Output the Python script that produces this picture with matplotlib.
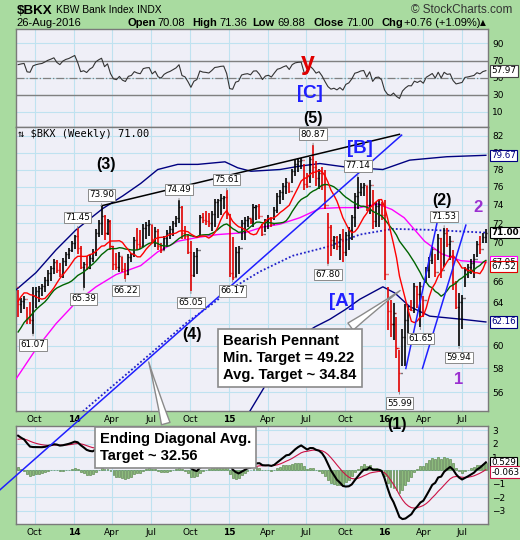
import numpy as np
import pandas as pd
import matplotlib
matplotlib.use('Agg')
import matplotlib.pyplot as plt
import matplotlib.dates as mdates
import matplotlib.transforms as mtrans
from matplotlib.ticker import NullLocator, NullFormatter, FuncFormatter

# weekly bars 23-Aug-2013 .. 26-Aug-2016
highs = [65.2, 64.4, 64.6, 63.6, 64.0, 65.5, 65.5, 65.6, 65.8, 66.5,
         67.2, 67.6, 68.3, 68.2, 67.9, 68.4, 69.0, 69.4, 70.1, 70.8,
         71.45, 69.6, 68.0, 68.6, 68.7, 69.3, 71.4, 72.3, 73.90, 72.9,
         72.5, 72.4, 69.6, 68.9, 69.0, 68.5, 67.9, 68.8, 68.9, 70.5,
         71.5, 71.3, 71.9, 72.1, 72.3, 71.8, 71.6, 71.4, 69.9, 70.7,
         71.3, 71.7, 72.2, 72.8, 74.49, 73.9, 71.7, 70.9, 70.1, 69.0,
         69.4, 72.9, 73.1, 73.3, 73.1, 73.3, 74.6, 74.7, 75.2, 75.0,
         75.61, 73.0, 70.5, 69.5, 69.6, 72.3, 72.7, 72.8, 72.5, 74.1,
         74.0, 74.1, 71.9, 72.5, 72.9, 72.7, 73.8, 75.3, 75.7, 76.4,
         77.0, 76.4, 78.1, 79.1, 79.3, 79.3, 78.6, 77.6, 79.5, 80.87,
         79.0, 78.1, 78.3, 78.0, 73.1, 71.8, 70.7, 70.6, 70.9, 71.4,
         71.1, 71.6, 72.9, 75.3, 77.14, 76.4, 76.4, 76.1, 76.8, 75.7,
         74.3, 74.5, 74.3, 74.5, 65.5, 64.2, 63.9, 62.6, 59.6, 61.5,
         63.8, 63.7, 64.2, 65.9, 65.6, 66.0, 64.6, 67.5, 68.5, 69.5,
         68.8, 70.9, 70.4, 71.53, 71.5, 70.6, 69.2, 66.1, 64.9, 64.7,
         67.5, 67.8, 68.3, 68.8, 70.1, 70.6, 71.0, 71.36]
lows = [62.6, 63.0, 63.4, 62.0, 62.0, 61.07, 63.5, 64.0, 64.6, 65.0,
        65.6, 66.1, 66.8, 66.9, 66.5, 66.4, 67.6, 68.3, 69.0, 69.3,
        68.8, 67.3, 65.39, 67.2, 67.3, 68.0, 68.6, 70.5, 70.8, 70.2,
        70.8, 69.2, 67.2, 67.2, 67.0, 67.0, 66.22, 66.7, 68.0, 68.5,
        69.2, 69.3, 69.5, 70.3, 70.6, 69.9, 69.5, 69.2, 68.9, 69.2,
        69.5, 70.3, 70.6, 71.6, 72.0, 70.3, 70.3, 68.8, 65.05, 66.5,
        66.8, 70.8, 72.0, 71.8, 71.6, 71.2, 71.6, 72.6, 72.9, 73.5,
        72.5, 66.5, 66.17, 66.5, 66.8, 70.2, 70.2, 71.6, 71.9, 71.6,
        72.3, 72.5, 70.6, 71.1, 71.4, 71.6, 72.4, 73.1, 74.1, 74.5,
        75.2, 75.3, 76.4, 77.2, 77.7, 78.1, 75.7, 75.9, 76.4, 77.0,
        76.1, 75.8, 75.7, 73.5, 67.80, 68.6, 69.3, 69.2, 68.2, 68.0,
        68.6, 69.2, 70.2, 71.6, 73.5, 75.0, 75.0, 73.3, 73.0, 71.4,
        71.6, 71.6, 72.4, 66.2, 61.4, 60.8, 60.5, 58.9, 55.99, 58.2,
        58.2, 61.0, 63.2, 63.0, 63.5, 61.65, 62.6, 65.9, 66.4, 67.8,
        66.5, 68.2, 66.4, 67.5, 69.5, 68.2, 65.2, 63.4, 59.94, 61.5,
        65.5, 66.4, 66.8, 66.4, 68.5, 68.8, 69.9, 69.88]
closes = [63.8, 64.1, 64.3, 62.4, 62.3, 64.6, 65.1, 65.4, 65.6, 66.2,
          66.9, 67.4, 68.0, 67.2, 66.8, 68.1, 68.8, 69.2, 69.9, 70.6,
          69.4, 67.5, 67.8, 67.4, 68.4, 69.0, 71.0, 72.0, 72.8, 71.0,
          72.2, 69.6, 67.8, 67.5, 68.6, 67.3, 66.8, 68.5, 68.8, 70.2,
          69.8, 69.6, 71.5, 71.8, 71.9, 70.3, 71.2, 69.6, 69.2, 70.4,
          71.0, 71.4, 72.0, 72.6, 73.8, 71.0, 70.6, 69.0, 66.7, 68.6,
          69.2, 72.7, 72.3, 72.2, 72.0, 73.0, 74.3, 74.5, 74.8, 74.9,
          73.0, 66.9, 66.5, 69.0, 69.4, 72.0, 72.4, 72.6, 72.2, 73.8,
          73.9, 72.8, 70.9, 72.2, 72.5, 71.9, 73.4, 75.0, 75.4, 76.1,
          76.6, 75.6, 77.8, 78.7, 79.0, 79.1, 76.3, 76.1, 79.2, 78.3,
          77.0, 77.6, 76.2, 74.0, 71.6, 70.2, 70.5, 69.6, 70.3, 69.0,
          70.8, 71.3, 72.7, 75.0, 75.4, 76.0, 76.2, 74.0, 76.2, 72.2,
          73.9, 74.1, 72.9, 66.8, 63.2, 62.0, 63.0, 59.8, 57.6, 60.8,
          62.3, 63.4, 63.3, 65.6, 64.8, 65.6, 64.2, 67.2, 68.2, 69.3,
          67.0, 70.4, 67.2, 71.0, 69.8, 70.1, 66.0, 63.6, 64.0, 64.4,
          67.2, 67.5, 67.9, 68.3, 69.8, 69.3, 70.5, 71.00]
# closes of the weeks before the window (only feed the indicators)
warmup = [54.2, 54.6, 55.8, 56.5, 57.0, 56.3, 56.8, 56.0, 55.2, 56.4,
          57.0, 57.8, 58.9, 60.1, 60.8, 61.5, 60.2, 59.4, 60.8, 62.5,
          63.9, 65.2, 66.5, 66.9, 66.4, 65.5]

# long averages / bands
ma50_dates = ['2013-08-18', '2013-10-04', '2013-11-20', '2014-01-06', '2014-02-22',
              '2014-04-10', '2014-06-07', '2014-07-17', '2014-09-02', '2014-10-19',
              '2014-12-05', '2015-01-05', '2015-02-07', '2015-03-21', '2015-04-30',
              '2015-06-16', '2015-08-02', '2015-09-18', '2015-11-04', '2015-12-16',
              '2016-01-18', '2016-02-16', '2016-04-04', '2016-05-14', '2016-06-28',
              '2016-08-26']
ma50_vals = [57.1, 59.7, 62.0, 64.0, 65.5, 66.7, 67.6, 69.0, 70.1, 70.5,
             70.8, 70.9, 71.0, 71.6, 71.9, 72.6, 73.6, 73.7, 73.7, 74.1,
             73.5, 72.6, 70.1, 68.8, 68.1, 67.9]
mid_dates = ['2014-01-15', '2014-06-21', '2014-09-23', '2014-11-24', '2015-01-09',
             '2015-03-14', '2015-05-30', '2015-08-18', '2015-11-04', '2016-01-20',
             '2016-04-16', '2016-08-26']
mid_vals = [54.2, 59.0, 62.1, 63.9, 65.4, 67.0, 68.6, 69.5, 70.8, 71.4, 71.3, 71.0]
up_dates = ['2013-08-18', '2013-10-04', '2013-11-20', '2014-01-06', '2014-03-10',
            '2014-04-26', '2014-06-07', '2014-07-17', '2014-09-02', '2014-10-19',
            '2014-12-22', '2015-01-21', '2015-02-21', '2015-04-30', '2015-06-16',
            '2015-08-02', '2015-09-30', '2015-12-28', '2016-02-29', '2016-05-26',
            '2016-08-26']
up_vals = [65.2, 66.9, 69.2, 71.3, 73.6, 75.0, 76.4, 78.0, 78.6, 78.6,
           78.9, 78.2, 77.8, 78.0, 78.4, 78.7, 78.3, 78.0, 79.1, 79.5, 79.67]
low_dates = ['2015-02-18', '2015-03-26', '2015-05-12', '2015-06-16', '2015-07-21',
             '2015-08-25', '2015-09-30', '2015-11-04', '2015-12-28', '2016-01-25',
             '2016-02-29', '2016-04-16', '2016-07-03', '2016-08-26']
low_vals = [54.4, 56.5, 59.3, 60.8, 61.7, 62.4, 63.3, 64.3, 65.5, 64.9,
            63.6, 62.7, 62.4, 62.16]

peak_labels = [71.45, 73.90, 74.49, 75.61, 80.87, 77.14, 71.53]
trough_labels = [61.07, 65.39, 66.22, 65.05, 66.17, 67.80, 55.99, 61.65, 59.94]

# drawn trend lines (date, price)
top_line = (['2014-03-07', '2016-02-05'], [73.90, 82.2])
diag_line = (['2013-07-11', '2016-02-10'], [48.4, 82.1])
pennant_a = (['2016-02-20', '2016-05-04'], [58.0, 72.2])
pennant_b = (['2016-03-30', '2016-07-10'], [58.0, 71.8])

W, H = 520, 540
GREEN = '#a9dba0'
PANEL = '#efeff7'
GRID = '#bfe2f0'
RED = '#e00000'
NAVY = '#000080'
BLUE = '#1f1fff'
PURPLE = '#9b30d0'
SANS = ['Liberation Sans', 'DejaVu Sans']

highs = np.array(highs)
lows = np.array(lows)
closes = np.array(closes)
weeks = pd.date_range('2013-08-23', periods=len(closes), freq='W-FRI')
x = mdates.date2num(weeks.values)

allc = pd.Series(warmup + list(closes))
n0 = len(warmup)
ma10 = allc.rolling(10).mean().values[n0:]
ma20 = allc.rolling(20).mean().values[n0:]
d = allc.diff()
gain = d.clip(lower=0).ewm(alpha=1 / 14, adjust=False).mean()
loss = (-d.clip(upper=0)).ewm(alpha=1 / 14, adjust=False).mean()
rsi = (100 - 100 / (1 + gain / loss)).values[n0:]
macd = allc.ewm(span=12, adjust=False).mean() - allc.ewm(span=26, adjust=False).mean()
signal = macd.ewm(span=9, adjust=False).mean()
hist = (macd - signal).values[n0:]
macd = macd.values[n0:]
signal = signal.values[n0:]

prev = np.r_[warmup[-1], closes[:-1]]
bar_col = np.where(closes >= prev, 'black', RED)


def dn(dates):
    return mdates.date2num(pd.to_datetime(dates).values)


fig = plt.figure(figsize=(W / 100, H / 100), dpi=100)
fig.patch.set_facecolor(GREEN)

ax_r = fig.add_axes([16 / W, 1 - 127 / H, 472 / W, 98 / H])
ax = fig.add_axes([16 / W, 1 - 411 / H, 472 / W, 284 / H], zorder=3)
ax_m = fig.add_axes([16 / W, 1 - 524 / H, 472 / W, 98 / H])

xmin, xmax = dn(['2013-08-18', '2016-08-31'])
qdates = pd.date_range('2013-10-01', '2016-07-01', freq='QS')
qlabels = [q.strftime('%y') if q.month == 1 else q.strftime('%b') for q in qdates]

for a in (ax_r, ax, ax_m):
    a.set_facecolor(PANEL)
    a.set_xlim(xmin, xmax)
    a.set_xticks(dn(qdates))
    a.set_xticklabels(qlabels if a is not ax_r else [])
    a.set_axisbelow(True)
    a.grid(True, color=GRID, lw=0.8)
    a.yaxis.tick_right()
    a.tick_params(length=0, labelsize=6.5, pad=3, colors='black')
    for s in a.spines.values():
        s.set_color('#7a7a7a')
        s.set_linewidth(1)
    if a is not ax_r:
        for lab, q in zip(a.get_xticklabels(), qdates):
            if q.month == 1:
                lab.set_fontweight('bold')

# --- price panel
ax.set_yscale('log')
ax.set_ylim(54.44, 83.1)
ax.set_yticks(range(56, 84, 2))
ax.yaxis.set_major_formatter(FuncFormatter(lambda v, p: f'{v:.0f}'))
ax.yaxis.set_minor_locator(NullLocator())
ax.yaxis.set_minor_formatter(NullFormatter())

ax.plot(dn(up_dates), up_vals, color=NAVY, lw=1, zorder=3)
ax.plot(dn(low_dates), low_vals, color=NAVY, lw=1, zorder=3)
ax.plot(dn(mid_dates), mid_vals, color='#2020c8', lw=1.3, ls=(0, (1, 1.2)), zorder=3)
ax.plot(dn(ma50_dates), ma50_vals, color='#ff00ff', lw=1, zorder=3)
ax.plot(x, ma20, color='#006400', lw=1, zorder=5)
ax.plot(x, ma10, color='#ff0000', lw=1, zorder=5)

tick = 2.4
ax.vlines(x, lows, highs, colors=bar_col, lw=1.2, zorder=4)
ax.hlines(prev, x - tick, x, colors=bar_col, lw=1, zorder=4)
ax.hlines(closes, x, x + tick, colors=bar_col, lw=1, zorder=4)

ax.plot(dn(top_line[0]), top_line[1], color='black', lw=1.1, zorder=6)
ax.plot(dn(diag_line[0]), diag_line[1], color=BLUE, lw=1.1, zorder=6, clip_on=False)
ax.plot(dn(pennant_a[0]), pennant_a[1], color=BLUE, lw=1.1, zorder=6)
ax.plot(dn(pennant_b[0]), pennant_b[1], color=BLUE, lw=1.1, zorder=6)

lab_box = dict(boxstyle='square,pad=0.15', fc='white', ec='#8a8a8a', lw=0.7)
for v in peak_labels:
    i = int(np.argmin(np.abs(highs - v)))
    ax.annotate(f'{v:.2f}', xy=(x[i], v), xytext=(0, 11), textcoords='offset pixels',
                ha='center', va='center', fontsize=6.3, bbox=lab_box, zorder=8,
                arrowprops=dict(arrowstyle='-', color='#8a8a8a', lw=0.7))
for v in trough_labels:
    i = int(np.argmin(np.abs(lows - v)))
    ax.annotate(f'{v:.2f}', xy=(x[i], v), xytext=(0, -11), textcoords='offset pixels',
                ha='center', va='center', fontsize=6.3, bbox=lab_box, zorder=8,
                arrowprops=dict(arrowstyle='-', color='#8a8a8a', lw=0.7))

callout = dict(boxstyle='square,pad=0.35', fc='white', ec='#8a8a8a', lw=1.2)
ax.annotate('Bearish Pennant\nMin. Target = 49.22\nAvg. Target ~ 34.84',
            xy=(dn(['2016-02-12'])[0], 65.3), xytext=(223, H - 334),
            textcoords='figure pixels', ha='left', va='top', fontsize=10.6,
            fontweight='bold', family=SANS, linespacing=1.28, bbox=callout, zorder=10,
            arrowprops=dict(arrowstyle='wedge,tail_width=0.6,shrink_factor=0.4',
                            fc='white', ec='#8a8a8a', lw=1, relpos=(0.88, 1.0)))
ax.annotate('Ending Diagonal Avg.\nTarget ~ 32.56',
            xy=(dn(['2014-06-24'])[0], 58.8), xytext=(100, H - 432),
            textcoords='figure pixels', ha='left', va='top', fontsize=10.6,
            fontweight='bold', family=SANS, linespacing=1.28, bbox=callout, zorder=10,
            annotation_clip=False,
            arrowprops=dict(arrowstyle='wedge,tail_width=0.6,shrink_factor=0.4',
                            fc='white', ec='#8a8a8a', lw=1, relpos=(0.45, 1.0)))

# --- RSI panel
ax_r.set_ylim(-8, 107)
ax_r.set_yticks([10, 30, 50, 70, 90])
ax_r.axhline(70, color='#808080', lw=1)
ax_r.axhline(30, color='#808080', lw=1)
ax_r.axhline(50, color='#808080', lw=0.9, ls='-.')
ax_r.plot(x, rsi, color='#333333', lw=0.8)

# --- MACD panel
ax_m.set_ylim(-3.97, 3.3)
ax_m.set_yticks(range(-3, 4))
ax_m.bar(x, hist, width=4.5, color='#8cbb7c', edgecolor='#4a7a3a', lw=0.4, zorder=2)
ax_m.plot(x, signal, color='#cc1144', lw=0.8, zorder=3)
ax_m.plot(x, macd, color='black', lw=1.5, zorder=4)


def tag(a, v, txt, ec, tc='black', bold=False):
    tr = mtrans.blended_transform_factory(a.transAxes, a.transData)
    a.text(1.007, v, txt, transform=tr, ha='left', va='center', fontsize=6.3,
           color=tc, fontweight='bold' if bold else 'normal', clip_on=False, zorder=12,
           bbox=dict(boxstyle='square,pad=0.14', fc='white', ec=ec, lw=0.8))


tag(ax_r, 57.97, '57.97', '#444444')
tag(ax, 79.67, '79.67', NAVY, NAVY)
tag(ax, 71.00, '71.00', 'black', bold=True)
tag(ax, 67.95, '67.95', '#ff00ff')
tag(ax, 67.52, '67.52', RED)
tag(ax, 62.16, '62.16', NAVY, NAVY)
tag(ax_m, 0.56, '0.529', 'black')
tag(ax_m, -0.12, '-0.063', '#cc1144')

# --- header
ft = dict(va='center', family=SANS, zorder=10)
fig.text(17 / W, 1 - 11 / H, '$BKX', fontsize=9.6, fontweight='bold', **ft)
fig.text(56 / W, 1 - 10 / H, 'KBW Bank Index', fontsize=7.4, **ft)
fig.text(137 / W, 1 - 10 / H, 'INDX', fontsize=7.4, **ft)
fig.text(512 / W, 1 - 10 / H, '\u00a9 StockCharts.com', fontsize=8.5, ha='right', color='#333333', **ft)
fig.text(16 / W, 1 - 23 / H, '26-Aug-2016', fontsize=8, **ft)
for px, s, b in [(128, 'Open', True), (157, '70.08', False), (192, 'High', True),
                 (219, '71.36', False), (252, 'Low', True), (277, '69.88', False),
                 (313, 'Close', True), (346, '71.00', False), (381, 'Chg', True),
                 (404, '+0.76 (+1.09%)', False)]:
    fig.text(px / W, 1 - 23 / H, s, fontsize=8, fontweight='bold' if b else 'normal', **ft)
fig.text(480 / W, 1 - 23 / H, '\u25b2', fontsize=5.5, va='center', zorder=10)

fig.text(18 / W, 1 - 134 / H, '\u21c5 $BKX (Weekly) 71.00', fontsize=7.5, va='center',
         family=['DejaVu Sans Mono', 'DejaVu Sans'], zorder=10)

# --- wave counts
for px, py, s, c, fs in [(106, 165, '(3)', 'black', 11.5), (313, 118, '(5)', 'black', 11.5),
                         (192, 335, '(4)', 'black', 11.5), (442, 200, '(2)', 'black', 11.5),
                         (397, 425, '(1)', 'black', 11.5), (308, 63, 'y', RED, 18),
                         (310, 93, '[C]', BLUE, 13.5), (360, 148, '[B]', BLUE, 13.5),
                         (342, 302, '[A]', BLUE, 13.5), (478, 208, '2', PURPLE, 12),
                         (459, 379, '1', PURPLE, 12)]:
    fig.text(px / W, 1 - py / H, s, color=c, fontsize=fs, fontweight='bold',
             ha='center', va='center', family=SANS, zorder=10)

fig.savefig('out.png', dpi=100, facecolor=GREEN)
